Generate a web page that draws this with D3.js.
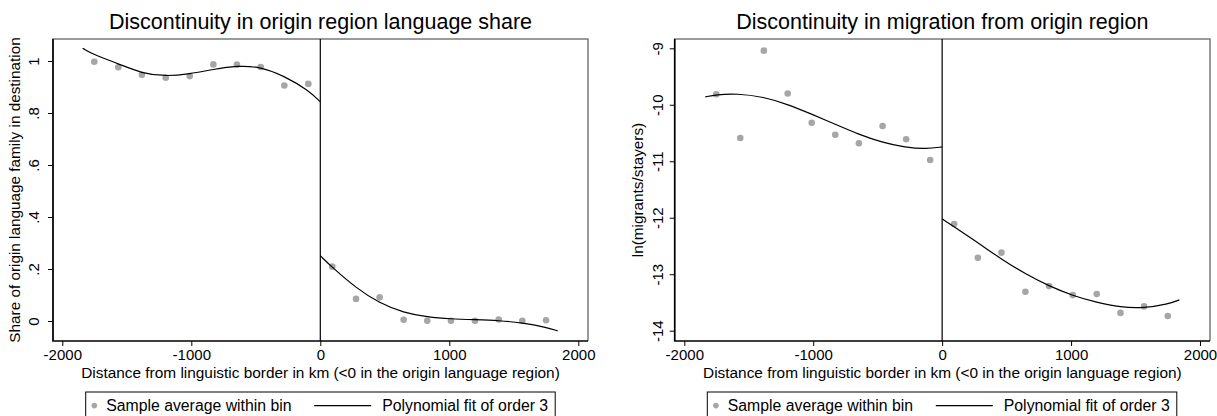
<!DOCTYPE html>
<html>
<head>
<meta charset="utf-8">
<script src="https://cdn.jsdelivr.net/npm/d3@7/dist/d3.min.js"></script>
<style>
  html, body { margin: 0; padding: 0; background: #fff; }
  svg { display: block; font-family: "Liberation Sans", Arial, sans-serif; }
</style>
</head>
<body>
<svg id="chart" width="1217" height="416"></svg>
<script>
// ---------- data ----------
const binX = [-1752, -1566, -1383, -1198, -1012, -829, -646, -462, -279, -93,
              93, 277, 460, 646, 829, 1013, 1199, 1383, 1566, 1750];

const shareAvg = [0.997, 0.976, 0.947, 0.936, 0.942, 0.987, 0.986, 0.977, 0.906, 0.912,
                  0.209, 0.085, 0.091, 0.005, 0.001, 0.001, 0.001, 0.006, 0.001, 0.003];

const migAvg = [-9.814, -10.588, -9.042, -9.80, -10.32, -10.53, -10.68, -10.375, -10.61, -10.977,
                -12.11, -12.71, -12.617, -13.31, -13.21, -13.37, -13.35, -13.685, -13.57, -13.74];

// polynomial fit curves, left and right of border
const shareFitLeftX = [-1842, -1752, -1566, -1383, -1198, -1012, -829, -646, -462, -279, -93, 0];
const shareFitLeftY = [1.049, 1.023, 0.990, 0.952, 0.941, 0.950, 0.968, 0.982, 0.978, 0.942, 0.888, 0.843];
const shareFitRightX = [0, 93, 277, 460, 646, 829, 1013, 1199, 1383, 1566, 1750, 1840];
const shareFitRightY = [0.251, 0.206, 0.127, 0.068, 0.032, 0.015, 0.008, 0.005, 0.002, -0.007, -0.024, -0.038];

const migFitLeftX = [-1837, -1752, -1594, -1384, -1202, -1018, -834, -651, -467, -284, -126, 0];
const migFitLeftY = [-9.86, -9.82, -9.80, -9.86, -9.99, -10.16, -10.34, -10.52, -10.665, -10.755, -10.785, -10.745];
const migFitRightX = [0, 91, 277, 460, 646, 829, 1013, 1199, 1383, 1566, 1750, 1840];
const migFitRightY = [-12.02, -12.16, -12.44, -12.735, -12.995, -13.21, -13.38, -13.50, -13.585, -13.60, -13.53, -13.455];

const xTicks = [-2000, -1000, 0, 1000, 2000];
const shareTicks = [0, 0.2, 0.4, 0.6, 0.8, 1];
const shareTickLabels = ["0", ".2", ".4", ".6", ".8", "1"];
const migTicks = [-14, -13, -12, -11, -10, -9];
const migTickLabels = ["-14", "-13", "-12", "-11", "-10", "-9"];

const titles = ["Discontinuity in origin region language share", "Discontinuity in migration from origin region"];
const yTitles = ["Share of origin language family in destination", "ln(migrants/stayers)"];
const xTitle = "Distance from linguistic border in km (<0 in the origin language region)";
const legendLabels = ["Sample average within bin", "Polynomial fit of order 3"];

// ---------- drawing ----------
const FONT = "Liberation Sans, Arial, sans-serif";
const svg = d3.select("#chart");
svg.append("rect").attr("width", 1217).attr("height", 416).attr("fill", "#fff");

function panel(cfg) {
  const g = svg.append("g");
  const x = d3.scaleLinear().domain([-2000, 2000]).range([cfg.x0, cfg.x1]);
  const y = d3.scaleLinear().domain(cfg.yDomain).range(cfg.yRange);
  const L = cfg.left, R = cfg.right, T = 39, B = 341;

  // frame (top/right grey)
  g.append("path")
    .attr("d", `M${L},${B}V${T}H${R}V${B}`)
    .attr("fill", "none").attr("stroke", "#7a7a7a").attr("stroke-width", 1.5);

  // title
  g.append("text").attr("x", (L + R) / 2).attr("y", 29)
    .attr("text-anchor", "middle").attr("font-size", 21.5).attr("fill", "#000")
    .text(cfg.title);

  // x axis
  const xa = g.append("g").attr("transform", `translate(0,${B})`)
    .call(d3.axisBottom(x).tickValues(xTicks).tickSize(5).tickPadding(3).tickFormat(d => String(d)));
  xa.select(".domain").remove();
  xa.selectAll("text").attr("font-size", 15).attr("font-family", FONT).attr("fill", "#000");
  xa.selectAll("line").attr("stroke", "#000");

  // y axis
  const ya = g.append("g").attr("transform", `translate(${L},0)`)
    .call(d3.axisLeft(y).tickValues(cfg.yTicks).tickSize(5)
      .tickFormat((d, i) => cfg.yTickLabels[i]));
  ya.select(".domain").remove();
  ya.selectAll("line").attr("stroke", "#000");
  ya.selectAll("text")
    .attr("font-size", 15).attr("font-family", FONT).attr("fill", "#000")
    .attr("text-anchor", "middle").attr("dy", null).attr("x", 0).attr("y", -cfg.tickLabelOff)
    .attr("transform", "rotate(-90)");

  // axis lines (black)
  g.append("path").attr("d", `M${L},${T}V${B}H${R}`)
    .attr("fill", "none").attr("stroke", "#000").attr("stroke-width", 1.6);

  // axis titles
  g.append("text").attr("x", (L + R) / 2).attr("y", 378)
    .attr("text-anchor", "middle").attr("font-size", 15.4).text(xTitle);
  g.append("text").attr("transform", `translate(${cfg.yTitleX},190) rotate(-90)`)
    .attr("text-anchor", "middle").attr("font-size", 15.3).text(cfg.yTitle);

  // vertical line at 0
  g.append("line").attr("x1", x(0)).attr("x2", x(0)).attr("y1", T).attr("y2", B)
    .attr("stroke", "#000").attr("stroke-width", 1.2);

  // points
  g.selectAll("circle.pt").data(binX.map((d, i) => [d, cfg.avg[i]])).enter()
    .append("circle").attr("class", "pt")
    .attr("cx", d => x(d[0])).attr("cy", d => y(d[1])).attr("r", 3.3)
    .attr("fill", "#a6a6a6");

  // fits
  const line = d3.line().x(d => x(d[0])).y(d => y(d[1])).curve(d3.curveBasis);
  [[cfg.fitLX, cfg.fitLY], [cfg.fitRX, cfg.fitRY]].forEach(([fx, fy]) => {
    g.append("path").attr("d", line(fx.map((d, i) => [d, fy[i]])))
      .attr("fill", "none").attr("stroke", "#000").attr("stroke-width", 1.2);
  });

  // legend
  const lx = cfg.legendX;
  const lg = g.append("g").attr("transform", `translate(${lx},392)`);
  lg.append("rect").attr("x", 0).attr("y", 0).attr("width", 469.5).attr("height", 32)
    .attr("fill", "#fff").attr("stroke", "#000").attr("stroke-width", 1);
  lg.append("circle").attr("cx", 8.6).attr("cy", 13.6).attr("r", 2.8).attr("fill", "#a6a6a6");
  lg.append("text").attr("x", 20.5).attr("y", 19).attr("font-size", 15.8).text(legendLabels[0]);
  lg.append("line").attr("x1", 228.5).attr("x2", 285.5).attr("y1", 13.6).attr("y2", 13.6)
    .attr("stroke", "#000").attr("stroke-width", 1.2);
  lg.append("text").attr("x", 296.5).attr("y", 19).attr("font-size", 15.8).text(legendLabels[1]);
}

panel({
  left: 53, right: 588, x0: 62.3, x1: 578.3,
  yDomain: [0, 1], yRange: [321, 61],
  yTicks: shareTicks, yTickLabels: shareTickLabels, tickLabelOff: 14,
  title: titles[0], yTitle: yTitles[0], yTitleX: 20,
  avg: shareAvg,
  fitLX: shareFitLeftX, fitLY: shareFitLeftY, fitRX: shareFitRightX, fitRY: shareFitRightY,
  legendX: 85.7
});

panel({
  left: 674.7, right: 1210, x0: 684.3, x1: 1200,
  yDomain: [-14, -9], yRange: [330.7, 48.3],
  yTicks: migTicks, yTickLabels: migTickLabels, tickLabelOff: 11.5,
  title: titles[1], yTitle: yTitles[1], yTitleX: 642.5,
  avg: migAvg,
  fitLX: migFitLeftX, fitLY: migFitLeftY, fitRX: migFitRightX, fitRY: migFitRightY,
  legendX: 707.3
});
</script>
</body>
</html>
